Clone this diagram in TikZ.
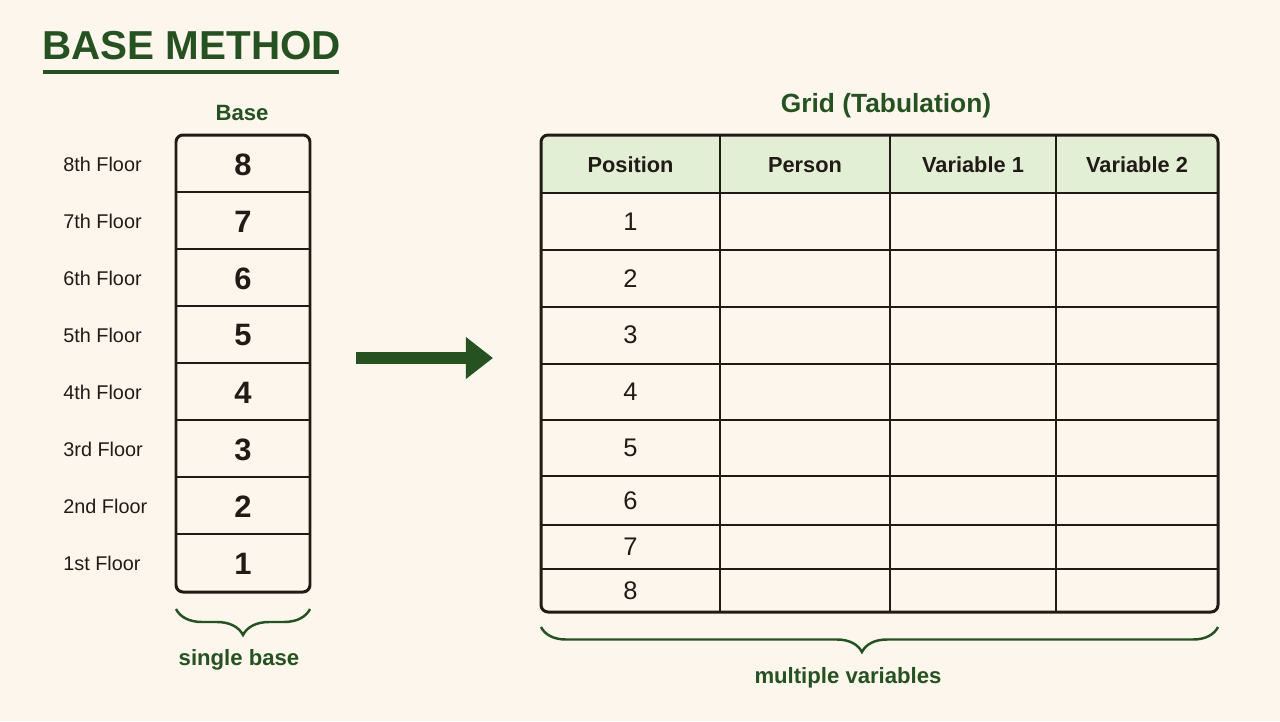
\documentclass[tikz,border=0pt]{standalone}
\usepackage{fontspec}
\setmainfont{Liberation Sans}
\usetikzlibrary{arrows.meta,decorations.pathreplacing}
\definecolor{Cream}{RGB}{252,246,236}
\definecolor{DarkGreen}{RGB}{38,82,34}
\definecolor{HeadGreen}{RGB}{227,239,212}
\definecolor{Ink}{RGB}{32,27,22}
\tikzset{
  >=Latex,
  title/.style={font=\fontsize{23}{26}\selectfont\bfseries,text=DarkGreen,anchor=west,inner sep=0pt},
  caption/.style={font=\fontsize{12.6}{15}\selectfont\bfseries,text=DarkGreen,inner sep=0pt},
  gridtitle/.style={caption,font=\fontsize{15}{18}\selectfont\bfseries},
  floor/.style={font=\fontsize{11.3}{13}\selectfont,text=Ink,anchor=west,inner sep=0pt},
  digit/.style={font=\fontsize{17.6}{20}\selectfont\bfseries,text=Ink,inner sep=0pt},
  posnum/.style={font=\fontsize{14.5}{17}\selectfont,text=Ink,inner sep=0pt},
  head/.style={font=\fontsize{12.4}{15}\selectfont\bfseries,text=Ink,inner sep=0pt},
  frame/.style={draw=Ink,line width=1.7pt,rounded corners=0.14cm},
  rule/.style={draw=Ink,line width=1.1pt},
  bracket/.style={draw=DarkGreen,line width=1.4pt,decorate,decoration={brace,amplitude=#1}},
  bigarrow/.style={-{Triangle[length=15.5pt,width=23pt]},line width=6.8pt,draw=DarkGreen}
}
\begin{document}
\begin{tikzpicture}[x=0.02cm,y=-0.02cm]
  \fill[Cream] (0,0) rectangle (1280,721);
  \useasboundingbox (0,0) rectangle (1280,721);
  % title
  \node[title] (title) at (42,46) {BASE METHOD};
  \draw[DarkGreen,line width=1.8pt] (43,72) -- (339,72);
  % base column
  \node[caption] (baseLabel) at (242,113) {Base};
  \foreach \n/\lab [evaluate=\n as \y using 592-57*\n+28.5] in {1/1st,2/2nd,3/3rd,4/4th,5/5th,6/6th,7/7th,8/8th}{
    \node[floor] (f\n) at (63,\y) {\lab\ Floor};
    \node[digit] (b\n) at (243,\y) {\n};
  }
  \foreach \k in {1,...,7}
    \draw[rule] (176,{135+57*\k}) -- (310,{135+57*\k});
  \draw[frame] (176,135) rectangle (310,592);
  \coordinate (braceBR) at (310,609);
  \coordinate (braceBL) at (176,609);
  \draw[bracket=0.52cm] (braceBR) -- (braceBL);
  \node[caption] (singleBase) at (239,660) {single base};
  % arrow
  \coordinate (arrowTail) at (356,358);
  \coordinate (arrowTip) at (493,358);
  \draw[bigarrow] (arrowTail) -- (arrowTip);
  % grid
  \node[gridtitle] (gridLabel) at (886,106) {Grid (Tabulation)};
  \begin{scope}
    \clip (541,135) rectangle (1218,193);
    \fill[HeadGreen,rounded corners=0.14cm] (541,135) rectangle (1218,230);
  \end{scope}
  \foreach \y in {193,250,307,364,420,476,525,569}
    \draw[rule] (541,\y) -- (1218,\y);
  \foreach \x in {720,890,1056}
    \draw[rule] (\x,135) -- (\x,612);
  \draw[frame] (541,135) rectangle (1218,612);
  \foreach \x/\h/\name in {630.5/Position/hPos,805/Person/hPer,973/Variable 1/hVarA,1137/Variable 2/hVarB}
    \node[head] (\name) at (\x,165) {\h};
  \foreach \n/\y in {1/222,2/279,3/335,4/392,5/448,6/501,7/547,8/591}
    \node[posnum] (p\n) at (630.5,\y) {\n};
  \coordinate (braceTR) at (1218,627);
  \coordinate (braceTL) at (541,627);
  \draw[bracket=0.5cm,decoration={aspect=0.526}] (braceTR) -- (braceTL);
  \node[caption] (multiVars) at (848,678) {multiple variables};
\end{tikzpicture}
\end{document}
